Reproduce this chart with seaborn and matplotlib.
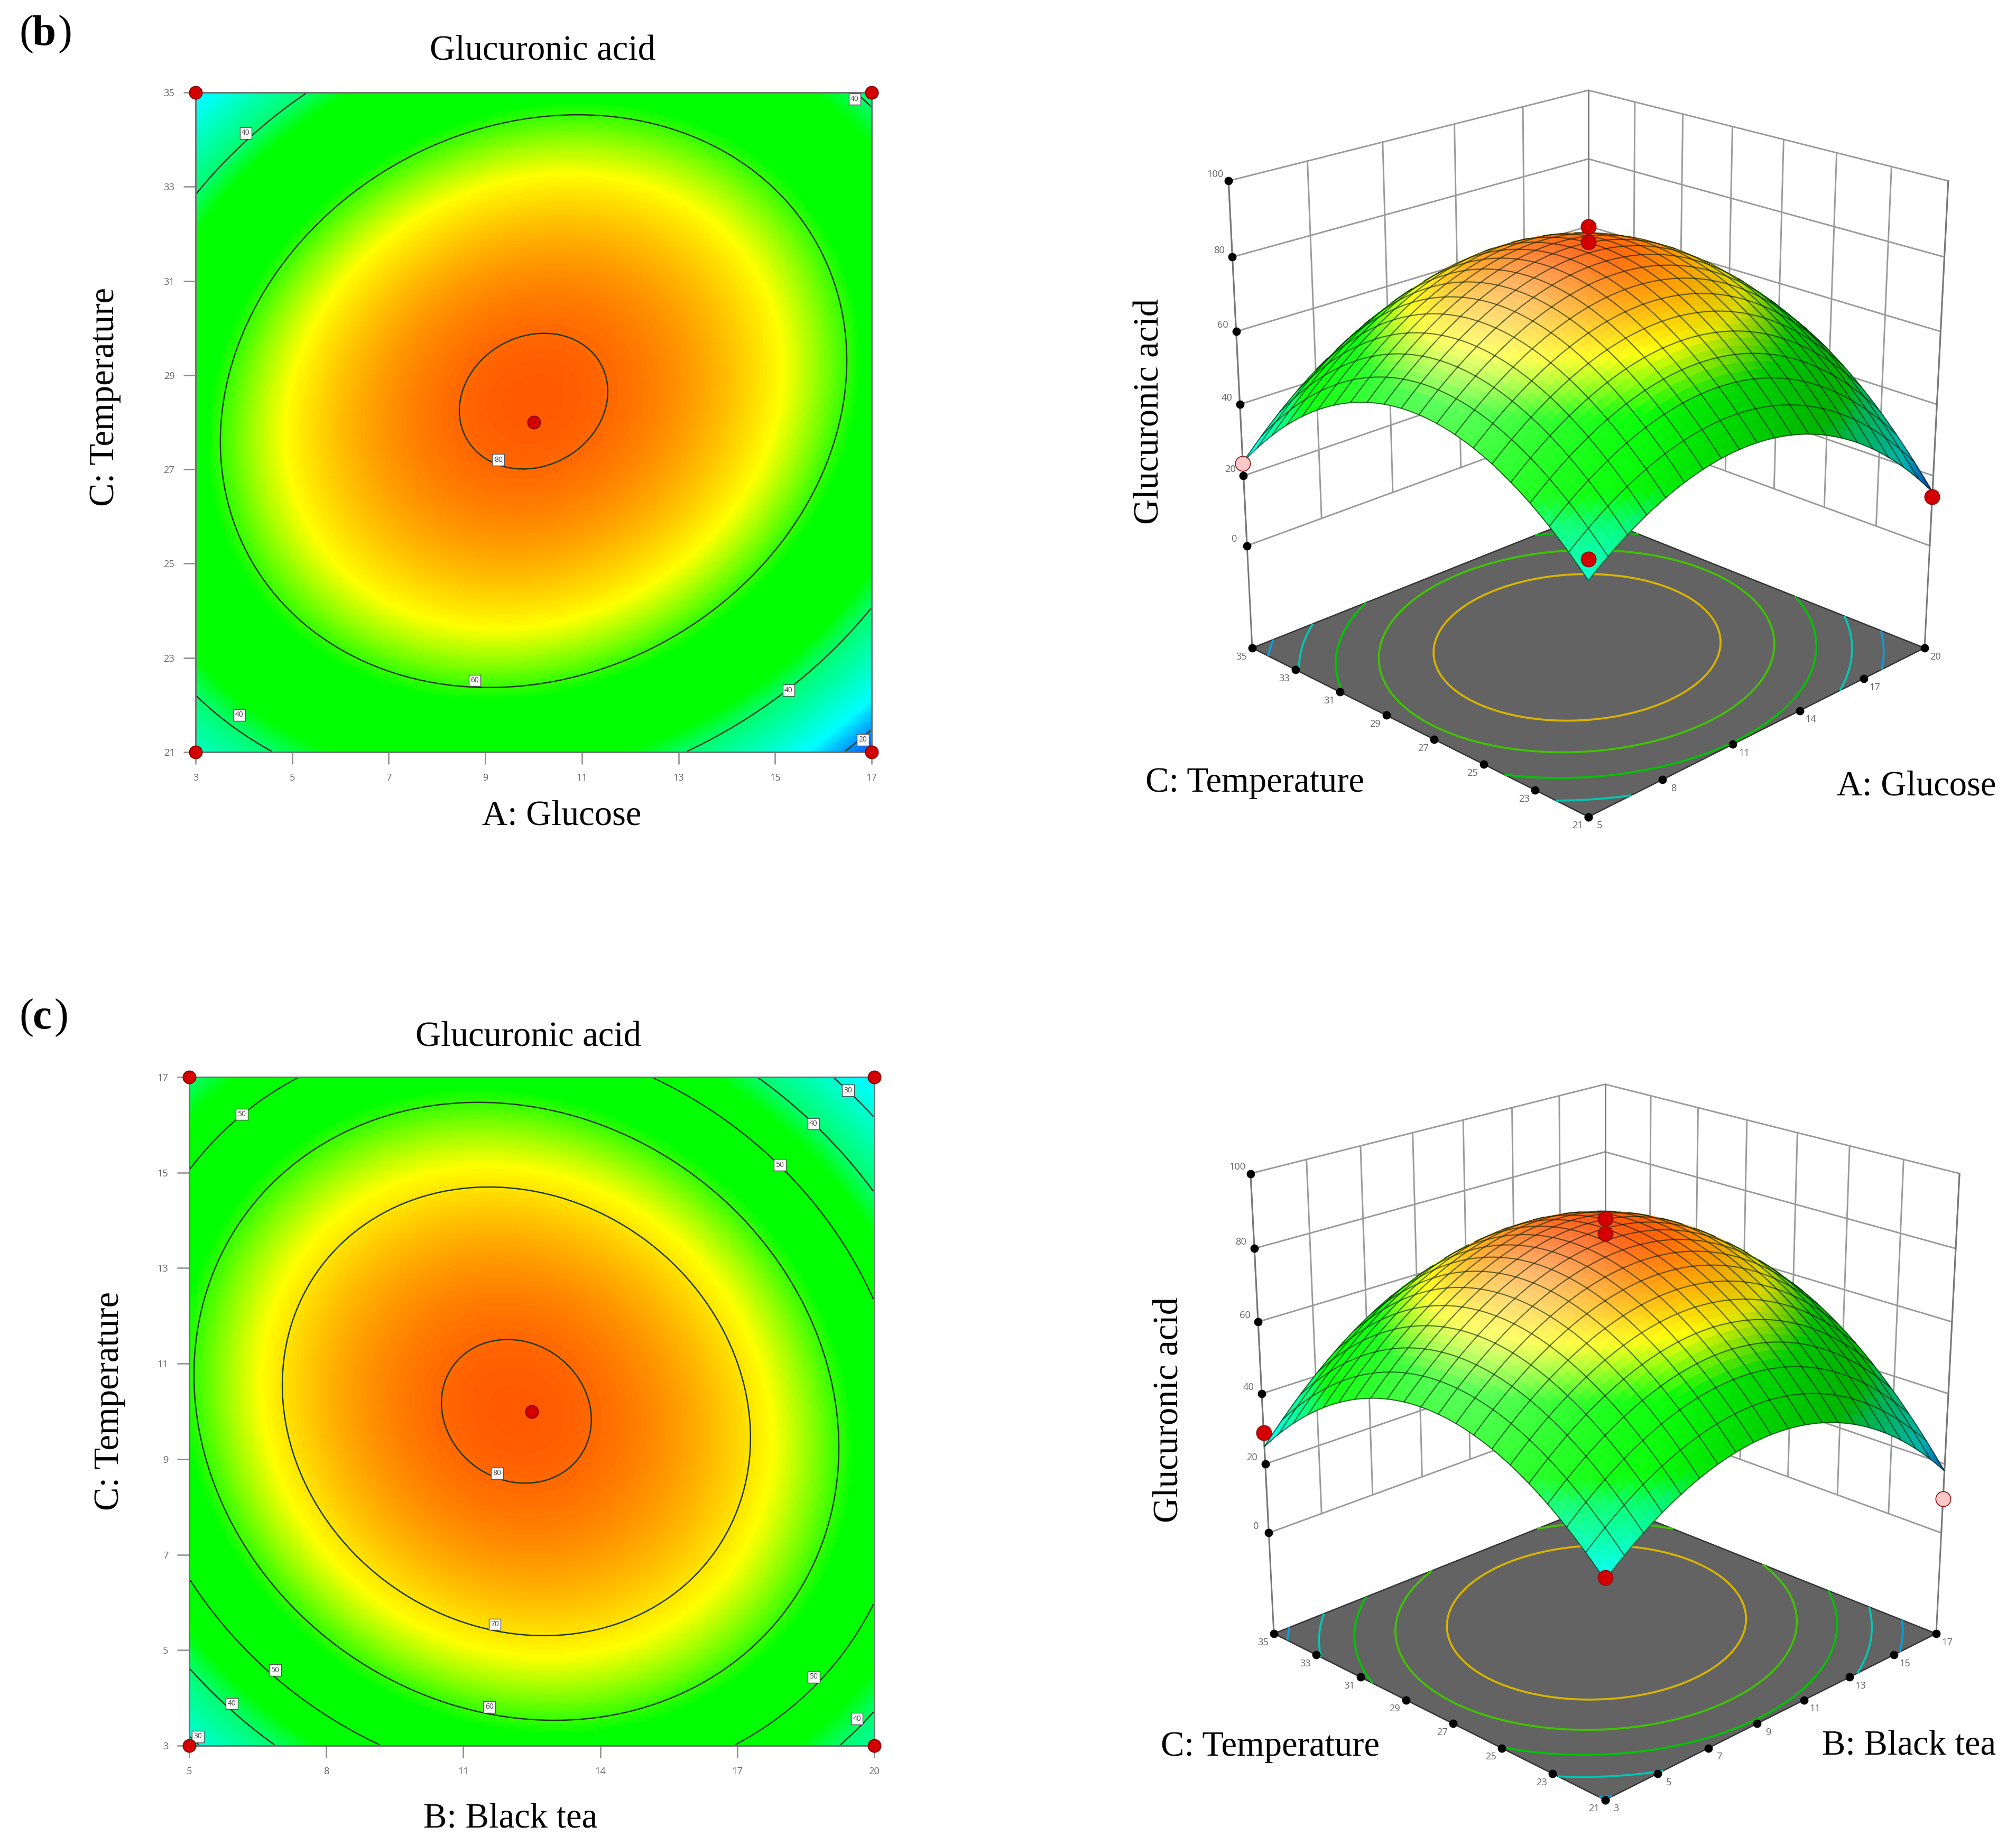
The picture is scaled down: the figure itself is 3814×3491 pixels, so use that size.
import numpy as np
import pandas as pd
import seaborn as sns
import matplotlib
matplotlib.use("Agg")
import matplotlib.pyplot as plt
from matplotlib.colors import LinearSegmentedColormap, Normalize
from mpl_toolkits.mplot3d import proj3d
from mpl_toolkits.mplot3d.art3d import Line3DCollection

# ---------- data: response at coded levels -1,-.5,0,.5,1 ----------
CODED = [-1, -0.5, 0, 0.5, 1]
# rows = C level (low to high), columns = other factor level (low to high)
GLUCOSE_TEMP = [[31.6, 46.5, 48.7, 38.4, 15.4],
                [51.2, 67.9, 72.1, 63.6, 42.6],
                [56.4, 75.0, 81.1, 74.5, 55.4],
                [47.2, 67.8, 75.7, 71.1, 53.9],
                [23.8, 46.2, 56.1, 53.3, 38.0]]
TEA_TEMP = [[28.4, 48.4, 56.3, 52.0, 35.7],
            [50.0, 68.5, 74.9, 69.3, 51.5],
            [59.1, 76.1, 81.1, 74.0, 54.7],
            [55.6, 71.2, 74.7, 66.1, 45.4],
            [39.5, 53.7, 55.7, 45.7, 23.6]]
TEA_TEMP_SURF = [[28.3, 44.5, 48.2, 39.3, 18.0],
                 [47.9, 66.2, 71.9, 65.1, 45.9],
                 [53.9, 74.2, 82.0, 77.3, 60.1],
                 [46.3, 68.6, 78.5, 75.9, 60.7],
                 [25.0, 49.4, 61.4, 60.8, 47.7]]

B_XTICKS = [3, 5, 7, 9, 11, 13, 15, 17]
B_YTICKS = [21, 23, 25, 27, 29, 31, 33, 35]
C_XTICKS = [5, 8, 11, 14, 17, 20]
C_YTICKS = [3, 5, 7, 9, 11, 13, 15, 17]
B_LEVELS = [20, 40, 60, 80]
C_LEVELS = [30, 40, 50, 60, 70, 80]
B_LABELS = [(4.04, 34.14, "40"), (16.65, 34.86, "40"), (3.9, 21.79, "40"), (8.78, 22.52, "60"),
            (9.27, 27.2, "80"), (15.28, 22.31, "40"), (16.82, 21.26, "20")]
C_LABELS = [(6.15, 16.22, "50"), (19.43, 16.72, "30"), (18.67, 16.02, "40"), (17.93, 15.16, "50"),
            (11.74, 8.7, "80"), (11.69, 5.54, "70"), (11.57, 3.81, "60"), (6.88, 4.58, "50"),
            (5.93, 3.88, "40"), (5.19, 3.19, "30"), (18.67, 4.44, "50"), (19.62, 3.56, "40")]
B_POINTS = [(3, 35), (17, 35), (3, 21), (17, 21), (10, 28)]
C_POINTS = [(5, 17), (20, 17), (5, 3), (20, 3), (12.5, 10)]

Z_TICKS = [0, 20, 40, 60, 80, 100]
T_TICKS = [21, 23, 25, 27, 29, 31, 33, 35]
S1_TICKS = [5, 8, 11, 14, 17, 20]
S2_TICKS = [3, 5, 7, 9, 11, 13, 15, 17]
FLOOR_LEVELS = [30, 40, 50, 60, 70]
FLOOR_COLORS = ["#0a9fd8", "#00c8b4", "#00c400", "#3ec400", "#d8b400"]
# design points (factor, temperature, response, face colour)
S1_PTS = [(5, 35, 23.5, "#ffc8c8"), (20, 21, 14.0, "#d40000"), (5, 21, 37.0, "#d40000"),
          (12.5, 28, 88.0, "#d40000"), (12.5, 28, 84.0, "#d40000")]
S2_PTS = [(3, 35, 29.0, "#d40000"), (17, 21, 10.0, "#ffc8c8"), (3, 21, 29.0, "#d40000"),
          (10, 28, 88.0, "#d40000"), (10, 28, 84.0, "#d40000")]

# ---------- layout ----------
W, H = 3814, 3491
SERIF = ["Liberation Serif", "DejaVu Serif"]
SANS = ["Open Sans", "DejaVu Sans"]
sns.set_theme(style="white")
plt.rcParams["font.family"] = SERIF
fig = plt.figure(figsize=(W / 300, H / 300), dpi=300, facecolor="white")

CMAP = LinearSegmentedColormap.from_list("rsm", [
    (0.00, "#0040ff"), (0.08, "#0090ff"), (0.17, "#00ffff"), (0.37, "#00ff70"), (0.44, "#00ff00"),
    (0.63, "#00ff00"), (0.77, "#ffff00"), (0.88, "#ffa000"), (0.96, "#ff5a00"), (1.00, "#ff4400")])
NORM = Normalize(14, 84)


def design(a, c):
    a, c = np.asarray(a, float), np.asarray(c, float)
    return np.stack([np.ones_like(a), a, c, a * a, c * c, a * c], axis=-1)


def fit_model(table):
    aa, cc = np.meshgrid(CODED, CODED)
    coef, *_ = np.linalg.lstsq(design(aa, cc).reshape(-1, 6), np.asarray(table).ravel(), rcond=None)
    return coef


def px_text(x, y, s, size=16, **kw):
    fig.text(x * 2.432 / W, 1 - y * 2.432 / H, s, fontsize=size, ha=kw.pop("ha", "center"),
             va=kw.pop("va", "center"), color="black", **kw)


def contour_panel(rect, table, xt, yt, levels, labels, points):
    l, t, r, b = rect
    ax = fig.add_axes([l / W, 1 - b / H, (r - l) / W, (b - t) / H])
    n = 400
    x0, x1, y0, y1 = xt[0], xt[-1], yt[0], yt[-1]
    u = (np.arange(n) + .5) / n * 2 - 1
    aa, cc = np.meshgrid(u, u)
    Z = design(aa, cc) @ fit_model(table)
    sns.heatmap(pd.DataFrame(Z), ax=ax, cmap=CMAP, norm=NORM, cbar=False,
                xticklabels=False, yticklabels=False, rasterized=True)
    ax.invert_yaxis()
    ix = lambda v: (np.asarray(v, float) - x0) / (x1 - x0) * n
    iy = lambda v: (np.asarray(v, float) - y0) / (y1 - y0) * n
    ax.contour(np.arange(n) + .5, np.arange(n) + .5, Z, levels=levels, colors="#1c3a1c", linewidths=.6)
    ax.set_xticks(ix(xt))
    ax.set_xticklabels([str(v) for v in xt])
    ax.set_yticks(iy(yt))
    ax.set_yticklabels([str(v) for v in yt])
    ax.tick_params(length=5.5, width=.6, color="#8a8a8a", labelsize=4.4, labelcolor="#666666", pad=4,
                   bottom=True, left=True)
    for lab in ax.get_xticklabels() + ax.get_yticklabels():
        lab.set_family(SANS)
    for s in ax.spines.values():
        s.set_visible(True)
        s.set_color("#707070")
        s.set_linewidth(.7)
    for x, y, s in labels:
        ax.text(ix(x), iy(y), s, fontsize=3.3, family=SANS, color="#444444", ha="center", va="center",
                bbox=dict(boxstyle="square,pad=0.25", fc="white", ec="#555555", lw=.35))
    pts = pd.DataFrame(points, columns=["x", "y"])
    sns.scatterplot(x=ix(pts.x), y=iy(pts.y), ax=ax, s=34, color="#d40000", edgecolor="#7a0000",
                    linewidth=.4, clip_on=False, zorder=6, legend=False)
    ax.set_xlabel("")
    ax.set_ylabel("")
    return ax


def surface_panel(table, xticks, yticks, pts, left, right):
    ax = fig.add_axes([.5, .1, .3, .3], projection="3d", computed_zorder=False)
    ax.set_axis_off()
    ax.patch.set_alpha(0)
    x0, x1, y0, y1 = xticks[0], xticks[-1], yticks[0], yticks[-1]
    fl, zt = -30, 100
    coef = fit_model(table)
    ax.set_box_aspect((1, 1, 1.02))
    ax.view_init(elev=21.5, azim=-135)
    ax.set_proj_type("persp", focal_length=.6)
    ax.set_xlim(x0, x1, view_margin=0)
    ax.set_ylim(y0, y1, view_margin=0)
    ax.set_zlim(fl, zt, view_margin=0)

    # walls
    grey = dict(color="#9a9a9a", lw=.7, zorder=1)
    for z in Z_TICKS:
        ax.plot([x0, x1, x1], [y1, y1, y0], [z, z, z], **grey)
    for x in xticks:
        ax.plot([x, x], [y1, y1], [0, zt], **grey)
    for y in yticks:
        ax.plot([x1, x1], [y, y], [0, zt], **grey)
    for x, y in [(x0, y1), (x1, y1), (x1, y0)]:
        ax.plot([x, x], [y, y], [fl, zt], color="#777777", lw=.7, zorder=1)

    # floor
    XF, YF = np.meshgrid([x0, x1], [y0, y1])
    ax.plot_surface(XF, YF, np.full_like(XF, fl, dtype=float), color="#636363", shade=False,
                    linewidth=0, zorder=2)
    ax.plot([x0, x1, x1, x0, x0], [y0, y0, y1, y1, y0], [fl] * 5, color="#333333", lw=.6, zorder=2.1)

    # base contours
    m = 200
    u = np.linspace(-1, 1, m)
    aa, cc = np.meshgrid(u, u)
    XX = x0 + (aa + 1) / 2 * (x1 - x0)
    YY = y0 + (cc + 1) / 2 * (y1 - y0)
    ZZ = design(aa, cc) @ coef
    ax.contour(XX, YY, ZZ, levels=FLOOR_LEVELS, colors=FLOOR_COLORS, linewidths=.9,
               zdir="z", offset=fl, zorder=2.5)

    # shaded surface
    n = 120
    u = np.linspace(-1, 1, n + 1)
    aa, cc = np.meshgrid(u, u)
    XS = x0 + (aa + 1) / 2 * (x1 - x0)
    YS = y0 + (cc + 1) / 2 * (y1 - y0)
    ZS = design(aa, cc) @ coef
    dzda = coef[1] + 2 * coef[3] * aa + coef[5] * cc
    dzdc = coef[2] + 2 * coef[4] * cc + coef[5] * aa
    k = (1.08 / 130) / .5
    nv = np.stack([-dzda * k, -dzdc * k, np.ones_like(aa)], -1)
    nv /= np.linalg.norm(nv, axis=-1, keepdims=True)
    L = np.array([-.5, .5, .72]); L /= np.linalg.norm(L)
    Hv = np.array([-.5, -.05, 1.]); Hv /= np.linalg.norm(Hv)
    diff = np.clip(nv @ L, 0, 1)
    spec = np.clip(nv @ Hv, 0, 1) ** 12
    rgb = CMAP(NORM(ZS))[..., :3]
    rgb = rgb * np.clip(.7 + .75 * diff, 0, 1)[..., None]
    s = (.45 * spec)[..., None]
    rgb = rgb * (1 - s) + s
    face = np.dstack([rgb, np.ones(rgb.shape[:2])])
    ax.plot_surface(XS, YS, ZS, facecolors=face, rcount=n, ccount=n, shade=False, linewidth=0,
                    antialiased=False, zorder=3)

    # mesh lines: only on facets that face the viewer
    M = ax.get_proj()
    px, py, _ = proj3d.proj_transform(XS.ravel(), YS.ravel(), ZS.ravel(), M)
    px, py = px.reshape(XS.shape), py.reshape(XS.shape)
    area = ((px[:-1, 1:] - px[:-1, :-1]) * (py[1:, :-1] - py[:-1, :-1])
            - (py[:-1, 1:] - py[:-1, :-1]) * (px[1:, :-1] - px[:-1, :-1]))
    sign = np.sign(np.median(area))
    front = area * sign > 0
    segs = []
    step = n // 20
    for i in range(0, n + 1, step):
        for j in range(n):
            if front[min(i, n - 1), j] or front[max(i - 1, 0), j]:
                segs.append([(XS[i, j], YS[i, j], ZS[i, j]), (XS[i, j + 1], YS[i, j + 1], ZS[i, j + 1])])
            if front[j, min(i, n - 1)] or front[j, max(i - 1, 0)]:
                segs.append([(XS[j, i], YS[j, i], ZS[j, i]), (XS[j + 1, i], YS[j + 1, i], ZS[j + 1, i])])
    ax.add_collection3d(Line3DCollection(segs, colors=[(0, .1, 0, .62)], linewidths=.5, zorder=4))

    # ticks
    dot = dict(marker="o", ms=2.8, color="black", ls="none", zorder=2.8, clip_on=False)
    proj = lambda x, y, z: proj3d.proj_transform(x, y, z, M)[:2]
    ann = dict(fontsize=4.4, family=SANS, color="#666666", ha="center", va="center",
               textcoords="offset points", annotation_clip=False)
    for z in Z_TICKS:
        ax.plot([x0], [y1], [z], **dot)
        ax.annotate(str(z), proj(x0, y1, z), xytext=(-6, 3), **ann)
    for y in yticks:
        ax.plot([x0], [y], [fl], **dot)
        ax.annotate(str(y), proj(x0, y, fl), xytext=(-5, -4), **ann)
    for x in xticks:
        ax.plot([x], [y0], [fl], **dot)
        ax.annotate(str(x), proj(x, y0, fl), xytext=(5, -4), **ann)

    # design points
    for x, y, z, col in pts:
        ax.plot([x], [y], [z], marker="o", ms=6.8, mfc=col, mec="#8a1010", mew=.4, ls="none",
                zorder=6, clip_on=False)

    # place axes so that the floor corners land where they should
    vl = ax.viewLim
    lx, ly = proj(x0, y1, fl)
    rx, _ = proj(x1, y0, fl)
    uL, vL = (lx - vl.x0) / vl.width, (ly - vl.y0) / vl.height
    uR = (rx - vl.x0) / vl.width
    S = (right[0] - left[0]) / (uR - uL)
    X0 = left[0] - uL * S
    Y0 = (H - left[1]) - vL * S
    ax.set_position([X0 / W, Y0 / H, S / W, S / H])
    return ax


contour_panel((370, 175, 1649, 1423), GLUCOSE_TEMP, B_XTICKS, B_YTICKS, B_LEVELS, B_LABELS, B_POINTS)
contour_panel((358, 2038, 1654, 3303), TEA_TEMP, C_XTICKS, C_YTICKS, C_LEVELS, C_LABELS, C_POINTS)
surface_panel(GLUCOSE_TEMP, S1_TICKS, T_TICKS, S1_PTS, (2369, 1226), (3641, 1226))
surface_panel(TEA_TEMP_SURF, S2_TICKS, T_TICKS, S2_PTS, (2410, 3091), (3663, 3091))

# text
px_text(422, 40, "Glucuronic acid")
px_text(437, 635, "A: Glucose")
px_text(81.5, 309, "C: Temperature", rotation=90)
px_text(894.5, 320, "Glucuronic acid", rotation=90)
px_text(976, 609, "C: Temperature")
px_text(1491, 612, "A: Glucose")
px_text(411, 807, "Glucuronic acid")
px_text(397, 1415, "B: Black tea")
px_text(85.5, 1090, "C: Temperature", rotation=90)
px_text(909.5, 1097, "Glucuronic acid", rotation=90)
px_text(988, 1359, "C: Temperature")
px_text(1485, 1358, "B: Black tea")
for letter, yy, xl, xr in [("b", 27, 25, 45), ("c", 792, 25, 42)]:
    px_text(15, yy, "(", size=19.5, ha="left")
    px_text(xl, yy, letter, size=19.5, ha="left", fontweight="bold")
    px_text(xr, yy, ")", size=19.5, ha="left")

fig.savefig("out.png", dpi=300)
